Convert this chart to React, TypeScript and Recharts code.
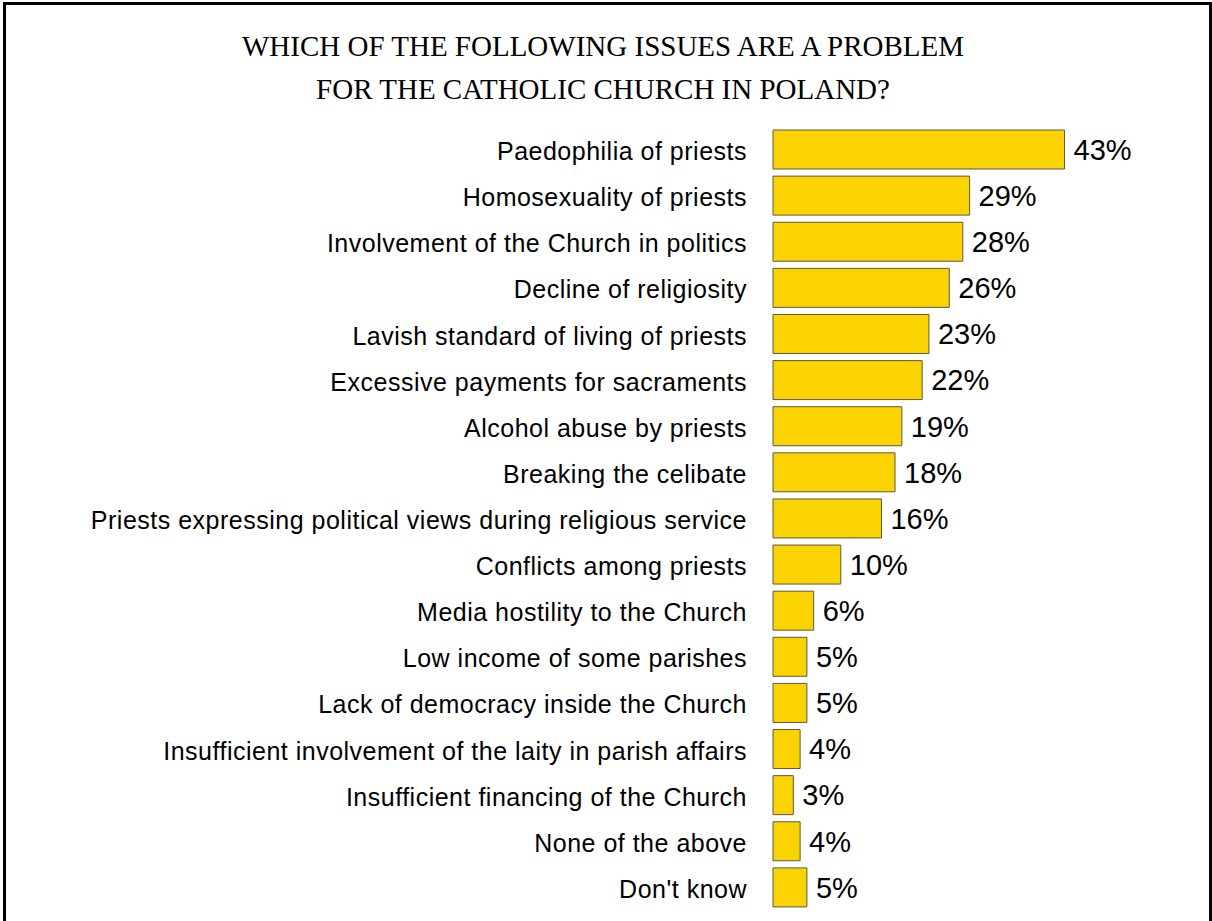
import { Bar, BarChart, LabelList, XAxis, YAxis } from "recharts";

const categories = [
  "Paedophilia of priests",
  "Homosexuality of priests",
  "Involvement of the Church in politics",
  "Decline of religiosity",
  "Lavish standard of living of priests",
  "Excessive payments for sacraments",
  "Alcohol abuse by priests",
  "Breaking the celibate",
  "Priests expressing political views during religious service",
  "Conflicts among priests",
  "Media hostility to the Church",
  "Low income of some parishes",
  "Lack of democracy inside the Church",
  "Insufficient involvement of the laity in parish affairs",
  "Insufficient financing of the Church",
  "None of the above",
  "Don't know",
];

const shares = [43, 29, 28, 26, 23, 22, 19, 18, 16, 10, 6, 5, 5, 4, 3, 4, 5];

const titleLines = [
  "WHICH OF THE FOLLOWING ISSUES ARE A PROBLEM",
  "FOR THE CATHOLIC CHURCH IN POLAND?",
];

const data = categories.map((issue, i) => ({ issue, share: shares[i] }));

const SANS = '"Liberation Sans", Arial, sans-serif';

function IssueTick({ x, y, payload }: any) {
  return (
    <text
      x={x}
      y={y}
      dy={11}
      textAnchor="end"
      fill="#000"
      style={{ fontFamily: SANS, fontSize: 25, letterSpacing: 0.5 }}
    >
      {payload.value}
    </text>
  );
}

export default function App() {
  return (
    <div
      style={{
        position: "absolute",
        left: 0,
        top: 0,
        width: 1212,
        height: 921,
        overflow: "hidden",
        background: "#fff",
      }}
    >
      <div
        style={{
          position: "absolute",
          left: 3,
          top: 2,
          width: 1203,
          height: 960,
          border: "3px solid #000",
        }}
      />
      <div
        style={{
          position: "absolute",
          left: 0,
          top: 25,
          width: 1206,
          textAlign: "center",
          fontFamily: '"Liberation Serif", "Times New Roman", serif',
          fontSize: 29,
          lineHeight: "43px",
          color: "#000",
        }}
      >
        {titleLines.map((line) => (
          <div key={line}>{line}</div>
        ))}
      </div>
      <div style={{ position: "absolute", left: 0, top: 0 }}>
        <BarChart
          width={1212}
          height={921}
          data={data}
          layout="vertical"
          margin={{ top: 126, right: 100, bottom: 11, left: 0 }}
        >
          <XAxis type="number" domain={[0, 50]} hide />
          <YAxis
            type="category"
            dataKey="issue"
            width={773}
            axisLine={false}
            tickLine={false}
            tickSize={6}
            tickMargin={20}
            interval={0}
            tick={<IssueTick />}
          />
          <Bar
            dataKey="share"
            fill="#FBD300"
            stroke="#5a5a4a"
            strokeWidth={1}
            barSize={39}
            isAnimationActive={false}
          >
            <LabelList
              dataKey="share"
              position="right"
              offset={9}
              formatter={(v: any) => `${v}%`}
              style={{ fontFamily: SANS, fontSize: 29, fill: "#000" }}
            />
          </Bar>
        </BarChart>
      </div>
    </div>
  );
}
